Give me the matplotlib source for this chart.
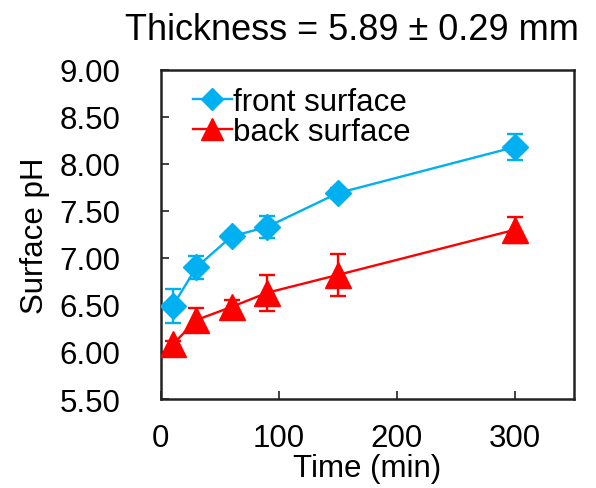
import matplotlib
matplotlib.use('Agg')
import matplotlib.pyplot as plt

plt.rcParams['font.family'] = ['Liberation Sans', 'DejaVu Sans']

time_min = [10, 30, 60, 90, 150, 300]
front_ph = [6.49, 6.90, 7.23, 7.33, 7.69, 8.18]
front_err = [0.18, 0.12, 0.05, 0.12, 0.05, 0.14]
back_ph = [6.08, 6.34, 6.48, 6.63, 6.82, 7.30]
back_err = [0.04, 0.13, 0.07, 0.19, 0.22, 0.14]

BLUE = '#00B0F0'
RED = '#FF0000'

fig = plt.figure(figsize=(5.96, 4.89), dpi=100)
ax = fig.add_axes([0.270, 0.182, 0.693, 0.673])

ax.errorbar(time_min, front_ph, yerr=front_err, color=BLUE, marker='D',
            markersize=13.5, linewidth=1.7, capsize=6, elinewidth=1.7,
            capthick=1.7, label='front surface', zorder=3)
ax.errorbar(time_min, back_ph, yerr=back_err, color=RED, marker='^',
            markersize=19, linewidth=1.7, capsize=6, elinewidth=1.7,
            capthick=1.7, label='back surface', zorder=3)

ax.set_xlim(0, 350)
ax.set_ylim(5.5, 9.0)
ax.set_xticks([0, 100, 200, 300])
ax.set_yticks([5.5, 6.0, 6.5, 7.0, 7.5, 8.0, 8.5, 9.0])
ax.set_yticklabels([f'{v:.2f}' for v in ax.get_yticks()])
ax.tick_params(direction='in', length=6, width=1.2, labelsize=22.5,
               color='#222222')
ax.tick_params(axis='y', pad=29)
ax.tick_params(axis='x', pad=17)
for s in ax.spines.values():
    s.set_linewidth(1.8)
    s.set_color('#222222')

ax.set_xlabel('Time (min)', fontsize=22.5, labelpad=0)
ax.set_ylabel('Surface pH', fontsize=22.5, labelpad=7)

handles, labels = ax.get_legend_handles_labels()
handles = [h[0] for h in handles]
ax.legend(handles, labels, loc='center left', fontsize=22.5, frameon=False,
          markerscale=0.85, handlelength=1.25, handletextpad=0.03,
          labelspacing=0.0, borderpad=0, borderaxespad=0,
          bbox_to_anchor=(0.0775, 0.858))

fig.text(0.59, 0.918, 'Thickness = 5.89 \u00b1 0.29 mm', fontsize=26,
         ha='center', va='baseline')

fig.savefig('out.png', dpi=100)
